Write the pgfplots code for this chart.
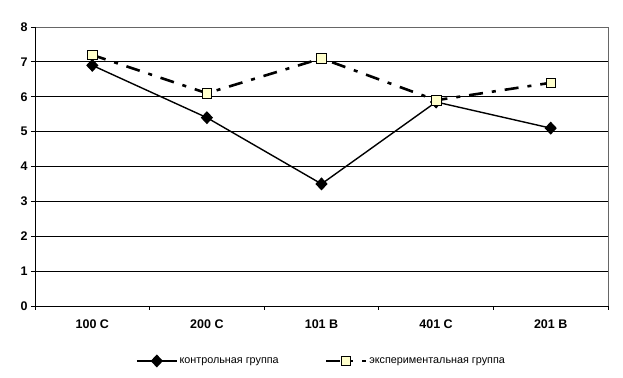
\documentclass[border=0pt]{standalone}
\usepackage{pgfplots}
\pgfplotsset{compat=1.18}
\usepackage{fontspec}
\setmainfont{Liberation Sans}
\definecolor{sqfill}{HTML}{FFFFCC}
\begin{document}
\begin{tikzpicture}
\begin{axis}[name=ax,
  scale only axis, width=573pt, height=279pt,
  xmin=-0.5, xmax=4.5, ymin=0, ymax=8,
  xtick={0,1,2,3,4},
  xticklabels={100 C,200 C,101 B,401 C,201 B},
  minor xtick={-0.5,0.5,1.5,2.5,3.5,4.5},
  ytick={0,1,...,8},
  major x tick style={draw=none},
  minor tick length=4pt, major tick length=4pt,
  tick align=outside,
  xtick pos=bottom, ytick pos=left,
  ymajorgrids, grid style={black, line width=0.8pt},
  axis line style={draw=none},
  ticklabel style={font=\fontsize{12.5}{14}\selectfont\bfseries},
  /pgf/number format/assume math mode=true,
  yticklabel style={xshift=0pt},
  xticklabel style={yshift=-6pt},
  tick style={black, line width=0.8pt},
  legend style={at={(0.5,-0.197)}, anchor=center, draw=none, legend columns=2,
    font=\fontsize{10.8}{12}\selectfont, /tikz/every even column/.append style={column sep=44pt}},
  legend image code/.code={
    \draw[#1] (0pt,0pt) -- (40pt,0pt);
    \draw[#1, only marks] plot coordinates {(20pt,0pt)};
  },
  clip=false,
]
% border
\draw[gray!80!black, line width=0.9pt] (axis cs:-0.5,8) -- (axis cs:4.5,8) -- (axis cs:4.5,0);
\draw[black, line width=0.9pt] (axis cs:-0.5,8) -- (axis cs:-0.5,0) -- (axis cs:4.5,0);
\addplot[black, line width=1.4pt, mark=diamond*, mark size=5.5pt, mark options={solid, fill=black, xscale=1.25}]
  coordinates {(0,6.9) (1,5.4) (2,3.5) (3,5.85) (4,5.1)};
\addlegendentry{контрольная группа}
\addplot[black, line width=2.6pt, dash pattern=on 14pt off 9pt on 4pt off 9pt, mark=square*, mark size=4.8pt, mark options={solid, fill=sqfill, line width=0.7pt}]
  coordinates {(0,7.2) (1,6.1) (2,7.1) (3,5.9) (4,6.4)};
\addlegendentry{экспериментальная группа}
\end{axis}
\pgfresetboundingbox
\path ([shift={(-35pt,-72pt)}]ax.south west) rectangle ([shift={(15pt,27pt)}]ax.north east);
\end{tikzpicture}
\end{document}
